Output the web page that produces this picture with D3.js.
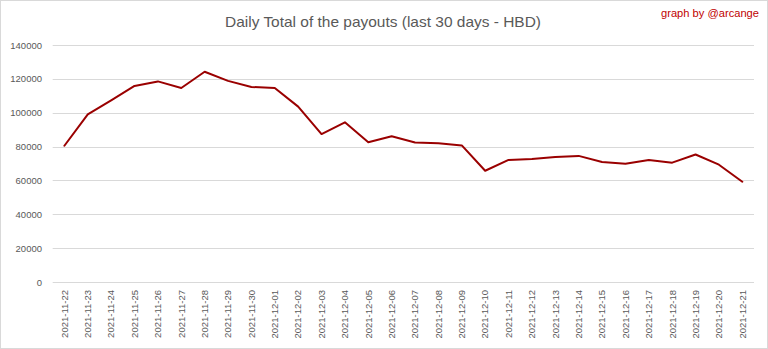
<!DOCTYPE html>
<html><head><meta charset="utf-8">
<script src="https://cdn.jsdelivr.net/npm/d3@7"></script>
<style>html,body{margin:0;padding:0;background:#fff;}svg{display:block;}</style>
</head><body>
<script>
const dates = ["2021-11-22","2021-11-23","2021-11-24","2021-11-25","2021-11-26","2021-11-27","2021-11-28","2021-11-29","2021-11-30","2021-12-01","2021-12-02","2021-12-03","2021-12-04","2021-12-05","2021-12-06","2021-12-07","2021-12-08","2021-12-09","2021-12-10","2021-12-11","2021-12-12","2021-12-13","2021-12-14","2021-12-15","2021-12-16","2021-12-17","2021-12-18","2021-12-19","2021-12-20","2021-12-21"];
const payouts = [80500,99000,107300,115800,118500,114600,124200,118800,115200,114600,103600,87400,94300,82500,86100,82400,81900,80700,65700,72100,72600,73800,74500,70900,69900,72100,70500,75300,69300,59200];
const yTicks = [0,20000,40000,60000,80000,100000,120000,140000];

const W = 768, H = 349;
const svg = d3.select("body").append("svg").attr("width", W).attr("height", H);
svg.append("rect").attr("x",0.5).attr("y",0.5).attr("width",W-1).attr("height",H-1)
  .attr("fill","#fff").attr("stroke","#d9d9d9");

const mLeft = 52.7, mRight = 754, mTop = 45, mBottom = 282;
const x = d3.scaleBand().domain(dates).range([mLeft, mRight]);
const y = d3.scaleLinear().domain([0,140000]).range([mBottom, mTop]);
const font = "'Liberation Sans', Arial, sans-serif";

// grid
svg.append("g").selectAll("line").data(yTicks).join("line")
  .attr("x1", mLeft).attr("x2", mRight)
  .attr("y1", d => Math.round(y(d))+0.5).attr("y2", d => Math.round(y(d))+0.5)
  .attr("stroke", "#d9d9d9").attr("stroke-width", 1);

// y axis labels
const yAxis = d3.axisLeft(y).tickValues(yTicks).tickSize(0).tickPadding(0).tickFormat(d3.format("d"));
const gy = svg.append("g").attr("transform", `translate(42,0)`).call(yAxis);
gy.select(".domain").remove();
gy.selectAll("text").attr("font-family", font).attr("font-size", "9.5px").attr("fill", "#595959");

// x axis labels
const xAxis = d3.axisBottom(x).tickSize(0).tickPadding(0);
const gx = svg.append("g").attr("transform", `translate(0,${mBottom})`).call(xAxis);
gx.select(".domain").remove();
gx.selectAll("text")
  .attr("font-family", font).attr("font-size", "9.5px").attr("fill", "#595959")
  .attr("transform", "rotate(-90)")
  .attr("x", -8).attr("y", 0).attr("dy", "0.35em")
  .attr("text-anchor", "end");

// line
const line = d3.line().x((d,i) => x(dates[i]) + x.bandwidth()/2).y(d => y(d));
svg.append("path").datum(payouts).attr("d", line)
  .attr("fill", "none").attr("stroke", "#9a0000").attr("stroke-width", 2)
  .attr("stroke-linejoin", "round").attr("stroke-linecap", "round");

// title
svg.append("text").attr("x", 383).attr("y", 27).attr("text-anchor", "middle")
  .attr("font-family", font).attr("font-size", "15px").attr("fill", "#595959")
  .attr("textLength", 316).attr("lengthAdjust", "spacingAndGlyphs")
  .text("Daily Total of the payouts (last 30 days - HBD)");
svg.append("text").attr("x", 759).attr("y", 17).attr("text-anchor", "end")
  .attr("font-family", font).attr("font-size", "10.5px").attr("fill", "#c00000")
  .attr("textLength", 98).attr("lengthAdjust", "spacingAndGlyphs")
  .text("graph by @arcange");
</script>
</body></html>
